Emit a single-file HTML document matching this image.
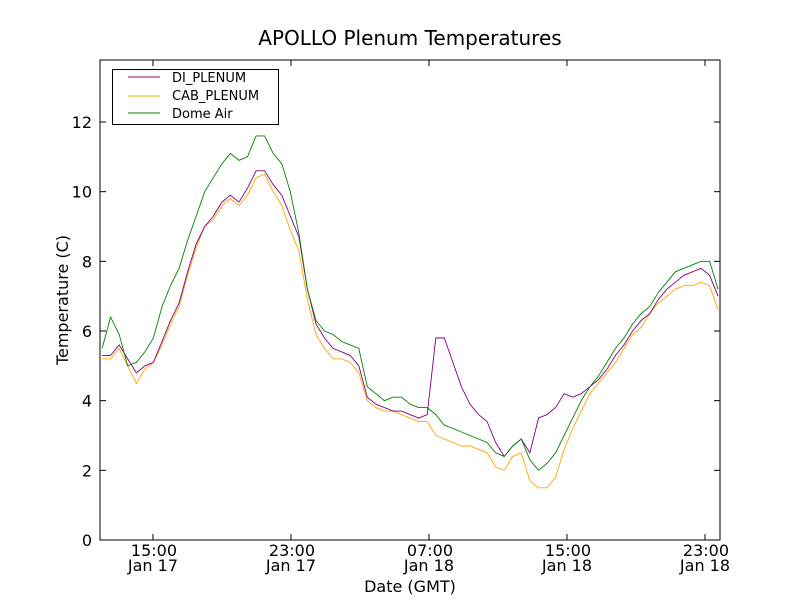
<!DOCTYPE html>
<html><head><meta charset="utf-8"><style>
body{margin:0;background:#fff;}
svg{display:block;font-family:"DejaVu Sans","Liberation Sans",sans-serif;}
</style></head><body>
<svg id="chart" width="800" height="600">
<rect x="0" y="0" width="800" height="600" fill="#fff"/>
<text x="410" y="45" font-size="20" text-anchor="middle">APOLLO Plenum Temperatures</text>
<g id="plot"></g>
<rect x="100" y="60" width="620" height="480" fill="none" stroke="#000" stroke-width="1"/>
<text x="410" y="592" font-size="16" text-anchor="middle">Date (GMT)</text>
<text transform="translate(68,300) rotate(-90)" font-size="16" text-anchor="middle">Temperature (C)</text>
<g>
<rect x="112.5" y="69.5" width="166" height="55" fill="#fff" stroke="#000"/>
<line x1="128" y1="77" x2="160" y2="77" stroke="purple"/>
<text x="172" y="82" font-size="13">DI_PLENUM</text>
<line x1="128" y1="96" x2="160" y2="96" stroke="orange"/>
<text x="172" y="100" font-size="13">CAB_PLENUM</text>
<line x1="128" y1="113" x2="160" y2="113" stroke="green"/>
<text x="172" y="118" font-size="13">Dome Air</text>
</g>
</svg>
<script>
const tStart = 12.05, tStep = 0.496;
const domeAir = [5.5,6.4,5.9,5.0,5.1,5.4,5.8,6.7,7.3,7.8,8.6,9.3,10.0,10.4,10.8,11.1,10.9,11.0,11.6,11.6,11.1,10.8,10.0,8.8,7.2,6.3,6.0,5.9,5.7,5.6,5.5,4.4,4.2,4.0,4.1,4.1,3.9,3.8,3.8,3.6,3.3,3.2,3.1,3.0,2.9,2.8,2.5,2.4,2.7,2.9,2.3,2.0,2.2,2.5,3.0,3.5,4.0,4.4,4.7,5.1,5.5,5.8,6.2,6.5,6.7,7.1,7.4,7.7,7.8,7.9,8.0,8.0,7.2];
const diPlenum = [5.3,5.3,5.6,5.2,4.8,5.0,5.1,5.7,6.3,6.8,7.7,8.5,9.0,9.3,9.7,9.9,9.7,10.1,10.6,10.6,10.2,9.9,9.3,8.7,7.2,6.2,5.8,5.5,5.4,5.3,5.0,4.1,3.9,3.8,3.7,3.7,3.6,3.5,3.6,5.8,5.8,5.1,4.4,3.9,3.6,3.4,2.8,2.4,2.7,2.9,2.5,3.5,3.6,3.8,4.2,4.1,4.2,4.4,4.6,4.9,5.3,5.6,6.0,6.3,6.5,6.9,7.2,7.4,7.6,7.7,7.8,7.6,7.0];
const cabPlenum = [5.2,5.2,5.5,5.0,4.5,4.9,5.1,5.6,6.2,6.7,7.6,8.4,9.0,9.2,9.6,9.8,9.6,9.9,10.4,10.5,10.0,9.6,8.9,8.3,6.9,5.9,5.5,5.2,5.2,5.1,4.8,4.0,3.8,3.7,3.7,3.6,3.5,3.4,3.4,3.0,2.9,2.8,2.7,2.7,2.6,2.5,2.1,2.0,2.4,2.5,1.7,1.5,1.5,1.8,2.6,3.2,3.7,4.2,4.5,4.8,5.1,5.5,5.9,6.1,6.5,6.8,7.0,7.2,7.3,7.3,7.4,7.3,6.6];
const yTicks = [0,2,4,6,8,10,12];
const xTickHours = [15,23,31,39,47];
const xTickTimes = ["15:00","23:00","07:00","15:00","23:00"];
const xTickDates = ["Jan 17","Jan 17","Jan 18","Jan 18","Jan 18"];

const X0=100,X1=720,Y0=540,Y1=60, tMin=11.93, tMax=47.87, vMin=0, vMax=13.78;
function xs(t){return X0+(t-tMin)/(tMax-tMin)*(X1-X0);}
function ys(v){return Y0-(v-vMin)/(vMax-vMin)*(Y0-Y1);}
const NS="http://www.w3.org/2000/svg";
const g=document.getElementById('plot');
function mk(tag,attrs){const e=document.createElementNS(NS,tag);for(const k in attrs)e.setAttribute(k,attrs[k]);g.appendChild(e);return e;}

yTicks.forEach(v=>{
  const y=ys(v);
  const a=mk('line',{x1:X0,y1:y,x2:X0+6,y2:y,stroke:'#000'});
  
  
  const b=mk('line',{x1:X1-6,y1:y,x2:X1,y2:y,stroke:'#000'});
  
  
  const t=mk('text',{x:X0-8,y:y+6,'font-size':16,'text-anchor':'end'});
  t.textContent=v;
  
  
});
xTickHours.forEach((h,i)=>{
  const x=xs(h);
  const a=mk('line',{x1:x,y1:Y0,x2:x,y2:Y0-6,stroke:'#000'});
  
  
  const b=mk('line',{x1:x,y1:Y1,x2:x,y2:Y1+6,stroke:'#000'});
  
  
  const t1=mk('text',{x:x+1,y:Y0+16,'font-size':16,'text-anchor':'middle'});
  t1.textContent=xTickTimes[i];
  
  
  const t2=mk('text',{x:x,y:Y0+31,'font-size':16,'text-anchor':'middle'});
  t2.textContent=xTickDates[i];
  
  
});
function series(vals,color,name){
  const pts=vals.map((v,i)=>xs(tStart+i*tStep).toFixed(1)+','+ys(v).toFixed(1)).join(' ');
  const p=mk('polyline',{points:pts,fill:'none',stroke:color,'stroke-width':0.9});
  
  
}
series(cabPlenum,'orange','cab-plenum-line');
series(diPlenum,'purple','di-plenum-line');
series(domeAir,'green','dome-air-line');
</script>
</body></html>
